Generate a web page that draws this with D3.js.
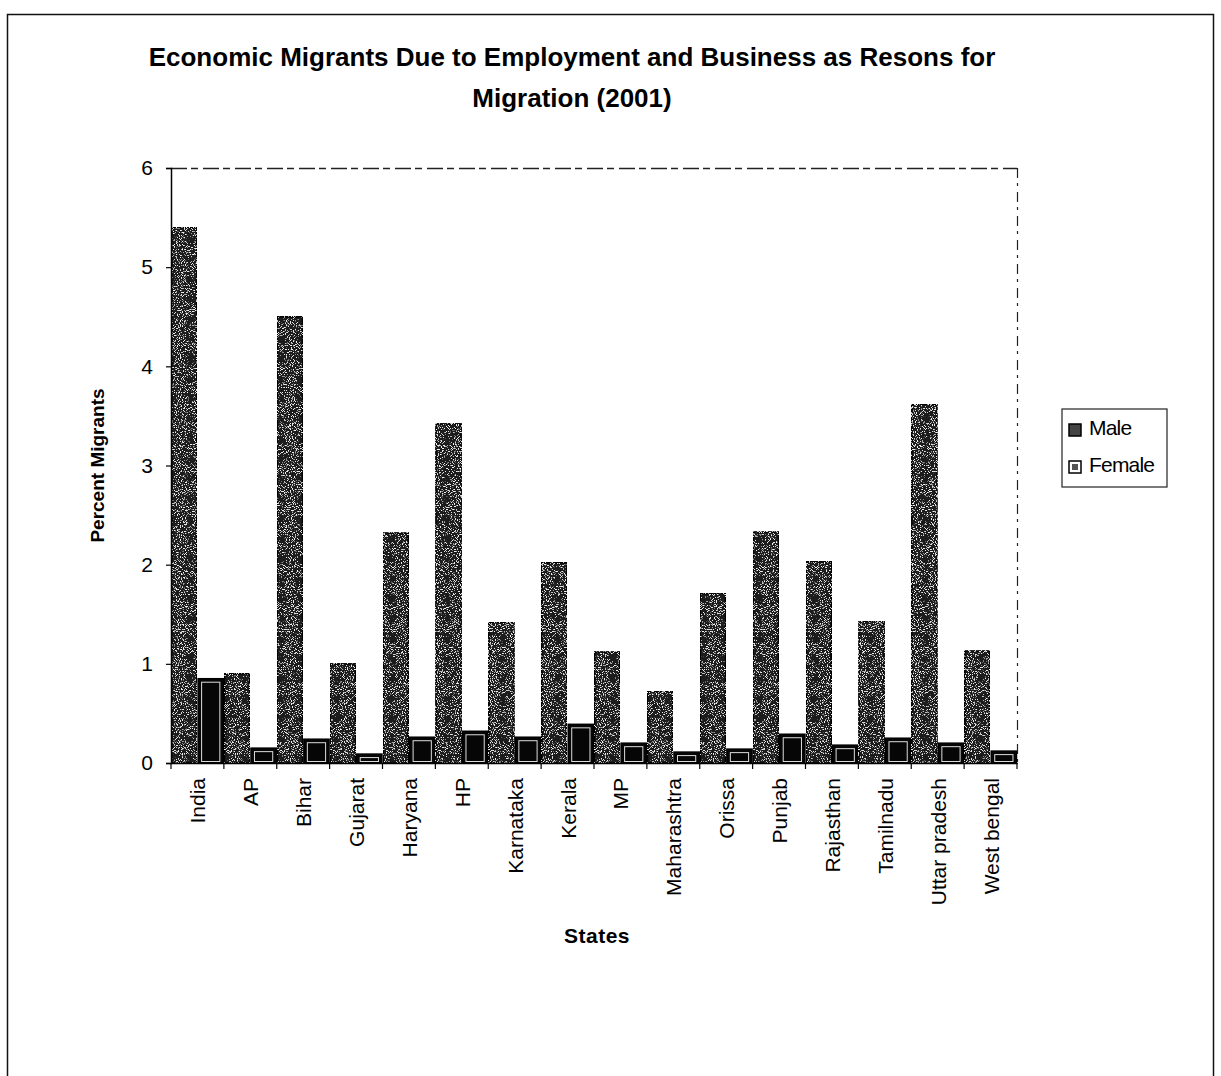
<!DOCTYPE html>
<html>
<head>
<meta charset="utf-8">
<script src="https://cdn.jsdelivr.net/npm/d3@7"></script>
<style>
  body { margin: 0; background: #fff; }
  svg { display: block; font-family: "Liberation Sans", Arial, sans-serif; }
</style>
</head>
<body>
<div id="chart"></div>
<script>
// Data
const states = ['India', 'AP', 'Bihar', 'Gujarat', 'Haryana', 'HP', 'Karnataka', 'Kerala',
  'MP', 'Maharashtra', 'Orissa', 'Punjab', 'Rajasthan', 'Tamilnadu', 'Uttar pradesh', 'West bengal'];
const series = ['Male', 'Female'];
const maleValues = [5.4, 0.9, 4.5, 1.0, 2.32, 3.42, 1.42, 2.02, 1.12, 0.72, 1.71, 2.33, 2.03, 1.43, 3.62, 1.13];
const femaleValues = [0.85, 0.15, 0.24, 0.09, 0.26, 0.32, 0.26, 0.39, 0.2, 0.11, 0.14, 0.29, 0.18, 0.25, 0.2, 0.12];
const yTicks = [0, 1, 2, 3, 4, 5, 6];

const width = 1221;
const height = 1076;
const plot = { left: 171, right: 1017, top: 168, bottom: 763 };
const font = '"Liberation Sans", Arial, sans-serif';

const svg = d3.select('#chart').append('svg')
  .attr('width', width)
  .attr('height', height);

// sparse white speckles, like the scanned bars
const defs = svg.append('defs');
const grain = defs.append('filter').attr('id', 'grain')
  .attr('x', 0).attr('y', 0).attr('width', 1).attr('height', 1);
grain.append('feTurbulence')
  .attr('type', 'fractalNoise')
  .attr('baseFrequency', 0.95)
  .attr('numOctaves', 2)
  .attr('seed', 7)
  .attr('result', 'n');
grain.append('feColorMatrix')
  .attr('in', 'n')
  .attr('type', 'matrix')
  .attr('values', '0 0 0 0 0.85  0 0 0 0 0.85  0 0 0 0 0.85  -9 0 0 0 3.9')
  .attr('result', 'dots');
grain.append('feComposite')
  .attr('in', 'dots').attr('in2', 'SourceGraphic').attr('operator', 'in').attr('result', 'clipped');
grain.append('feMerge').selectAll('feMergeNode')
  .data(['SourceGraphic', 'clipped'])
  .join('feMergeNode').attr('in', d => d);

// outer frame
svg.append('rect')
  .attr('x', 7.5).attr('y', 14.5)
  .attr('width', 1206).attr('height', 1100)
  .attr('fill', 'none')
  .attr('stroke', '#111')
  .attr('stroke-width', 1.5);

// title
const title = svg.append('text')
  .attr('text-anchor', 'middle')
  .attr('font-weight', 'bold')
  .attr('font-size', 26)
  .attr('fill', '#000');
title.append('tspan').attr('x', 572).attr('y', 66)
  .text('Economic Migrants Due to Employment and Business as Resons for');
title.append('tspan').attr('x', 572).attr('y', 107)
  .text('Migration (2001)');

// scales
const x = d3.scaleBand()
  .domain(states)
  .range([plot.left, plot.right])
  .padding(0);

const xSub = d3.scaleBand()
  .domain(series)
  .range([0, x.bandwidth()])
  .paddingInner(0.05)
  .paddingOuter(0.02);

const y = d3.scaleLinear()
  .domain([0, 6])
  .range([plot.bottom, plot.top]);

// plot area frame (top and right are broken in the scan)
svg.append('line')
  .attr('x1', plot.left).attr('x2', plot.right)
  .attr('y1', plot.top + 0.5).attr('y2', plot.top + 0.5)
  .attr('stroke', '#222').attr('stroke-width', 1.3)
  .attr('stroke-dasharray', '16,4,7,5');
svg.append('line')
  .attr('x1', plot.right + 0.5).attr('x2', plot.right + 0.5)
  .attr('y1', plot.top).attr('y2', plot.bottom)
  .attr('stroke', '#222').attr('stroke-width', 1.2)
  .attr('stroke-dasharray', '10,5,3,6');

// bars
const rows = states.map((s, i) => ({ state: s, Male: maleValues[i], Female: femaleValues[i] }));

const groups = svg.append('g').selectAll('g')
  .data(rows)
  .join('g')
  .attr('transform', d => `translate(${x(d.state)},0)`);

const bars = groups.selectAll('g.bar')
  .data(d => series.map(k => ({ key: k, value: d[k] })))
  .join('g')
  .attr('class', 'bar');

bars.append('rect')
  .attr('x', d => xSub(d.key))
  .attr('y', d => y(d.value))
  .attr('width', xSub.bandwidth())
  .attr('height', d => y(0) - y(d.value))
  .attr('fill', d => d.key === 'Male' ? '#1c1c1c' : '#060606')
  .attr('stroke', '#000')
  .attr('stroke-width', 1.5)
  .attr('filter', d => d.key === 'Male' ? 'url(#grain)' : null);

// female bars have a thin white inner outline
bars.filter(d => d.key === 'Female' && y(0) - y(d.value) > 8)
  .append('rect')
  .attr('x', d => xSub(d.key) + 3.5)
  .attr('y', d => y(d.value) + 3.5)
  .attr('width', xSub.bandwidth() - 7)
  .attr('height', d => y(0) - y(d.value) - 5)
  .attr('fill', 'none')
  .attr('stroke', '#dcdcdc')
  .attr('stroke-width', 1);

// y axis
const yAxis = svg.append('g')
  .attr('transform', `translate(${plot.left},0)`)
  .call(d3.axisLeft(y).tickValues(yTicks).tickFormat(d3.format('d')).tickSize(5).tickPadding(13));
yAxis.select('.domain').attr('stroke', '#000').attr('stroke-width', 1.5);
yAxis.selectAll('.tick line').attr('stroke', '#000').attr('stroke-width', 1.2);
yAxis.selectAll('.tick text')
  .attr('font-size', 21)
  .attr('fill', '#000')
  .attr('font-family', font);

// x axis: line, boundary ticks, rotated labels
const xAxis = svg.append('g')
  .attr('transform', `translate(0,${plot.bottom})`)
  .call(d3.axisBottom(x).tickSize(0).tickPadding(0));
xAxis.select('.domain').attr('stroke', '#000').attr('stroke-width', 1.5);
xAxis.selectAll('.tick text')
  .attr('font-size', 21)
  .attr('fill', '#000')
  .attr('font-family', font)
  .attr('text-anchor', 'end')
  .attr('dy', null)
  .attr('transform', 'translate(8,15) rotate(-90)');

const boundaries = states.map(s => x(s)).concat([plot.right]);
xAxis.selectAll('line.bound')
  .data(boundaries)
  .join('line')
  .attr('class', 'bound')
  .attr('x1', d => d).attr('x2', d => d)
  .attr('y1', 0).attr('y2', 6)
  .attr('stroke', '#000').attr('stroke-width', 1.2);

// axis titles
svg.append('text')
  .attr('transform', `translate(104,${(plot.top + plot.bottom) / 2}) rotate(-90)`)
  .attr('text-anchor', 'middle')
  .attr('font-weight', 'bold')
  .attr('font-size', 19)
  .text('Percent Migrants');

svg.append('text')
  .attr('x', 597).attr('y', 943)
  .attr('text-anchor', 'middle')
  .attr('font-weight', 'bold')
  .attr('font-size', 21)
  .attr('letter-spacing', 0.5)
  .text('States');

// legend
const legend = svg.append('g').attr('transform', 'translate(1062,409)');
legend.append('rect')
  .attr('width', 105).attr('height', 78)
  .attr('fill', '#fff')
  .attr('stroke', '#222').attr('stroke-width', 1.2);
const items = legend.selectAll('g.item')
  .data(series)
  .join('g')
  .attr('class', 'item')
  .attr('transform', (d, i) => `translate(7,${21 + i * 37})`);
items.append('rect')
  .attr('x', 0).attr('y', -6)
  .attr('width', 12).attr('height', 12)
  .attr('fill', d => d === 'Male' ? '#444' : '#fff')
  .attr('stroke', '#000').attr('stroke-width', 1.5);
items.filter(d => d === 'Female').append('rect')
  .attr('x', 3).attr('y', -3).attr('width', 6).attr('height', 6)
  .attr('fill', '#555');
items.append('text')
  .attr('x', 20).attr('y', 5)
  .attr('font-size', 21)
  .attr('letter-spacing', -0.8)
  .text(d => d);
</script>
</body>
</html>
